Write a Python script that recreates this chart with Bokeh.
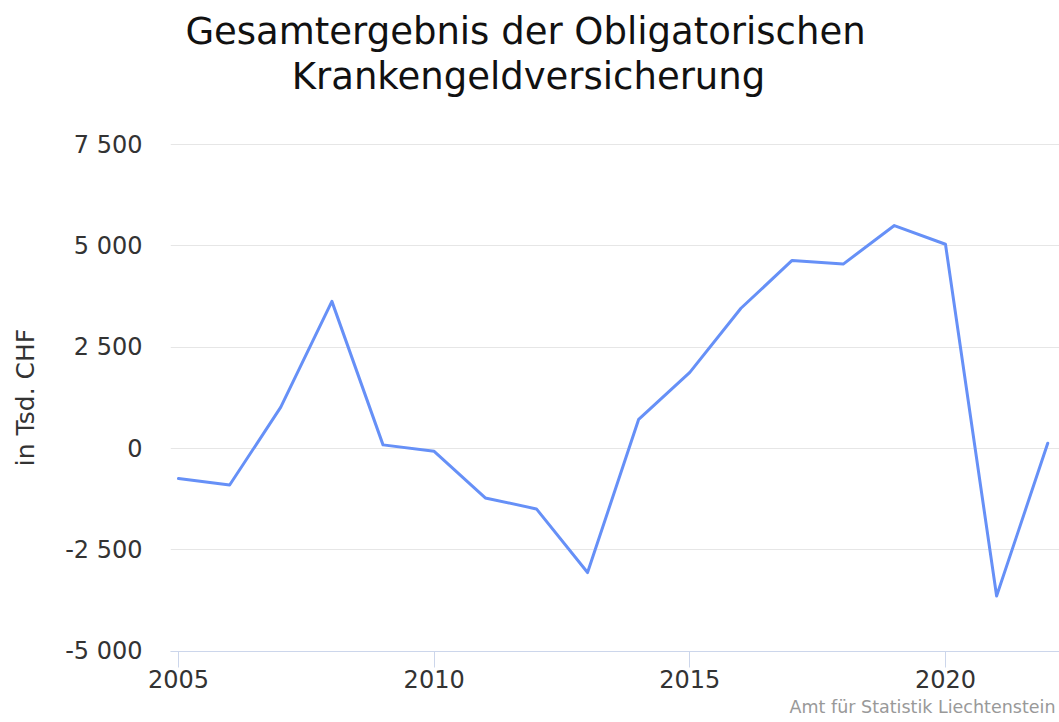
from bokeh.plotting import figure
from bokeh.layouts import column
from bokeh.models import FixedTicker, Range1d, Title, Label
from bokeh.embed import file_html
from bokeh.resources import INLINE

# ---- data ----
years = [2005, 2006, 2007, 2008, 2009, 2010, 2011, 2012, 2013,
         2014, 2015, 2016, 2017, 2018, 2019, 2020, 2021, 2022]
result = [-740, -900, 1020, 3630, 90, -70, -1220, -1490, -3060,
          720, 1880, 3460, 4640, 4550, 5500, 5040, -3640, 130]

y_ticks = [-5000, -2500, 0, 2500, 5000, 7500]
y_tick_labels = ["-5 000", "-2 500", "0", "2 500", "5 000", "7 500"]
x_ticks = [2005, 2010, 2015, 2020]
x_tick_labels = ["2005", "2010", "2015", "2020"]

title_lines = ["Gesamtergebnis der Obligatorischen", "Krankengeldversicherung"]
y_title = "in Tsd. CHF"
credit = "Amt für Statistik Liechtenstein"

# ---- layout ----
W, H = 1059, 722
TH = 123                    # height of the title strip
FL, FT, FB = 170, 143, 651  # frame left / top / bottom (page pixels)
FONT = "DejaVu Sans"

# title strip (its frame is aligned with the chart frame by the column layout)
tf = figure(width=W, height=TH, x_range=Range1d(0, 1), y_range=Range1d(0, 1),
            x_axis_type=None, y_axis_type=None,
            output_backend="svg", toolbar_location=None,
            min_border_left=0, min_border_right=0, min_border_top=0, min_border_bottom=0)
tf.outline_line_color = None
tf.xgrid.visible = False
tf.ygrid.visible = False
tf.background_fill_color = "white"
tf.border_fill_color = "white"

def add_title_line(text, sx, sy):
    tf.add_layout(Label(x=sx - FL, y=TH - sy, x_units="screen", y_units="screen",
                        text=text, text_font=FONT, text_font_size="37px",
                        text_color="#111111", text_align="center",
                        text_baseline="alphabetic"))

add_title_line(title_lines[0], 525, 31)
add_title_line(title_lines[1], 528, 76)

# main chart
p = figure(width=W, height=H - TH,
           x_range=Range1d(2004.8435, 2022.23),
           y_range=Range1d(-5007.4, 7524.7),
           output_backend="svg", toolbar_location=None,
           min_border_left=FL, min_border_right=0,
           min_border_top=FT - TH, min_border_bottom=H - FB)
p.outline_line_color = None
p.background_fill_color = "white"
p.border_fill_color = "white"

p.line(years, result, line_color="#6690f7", line_width=3,
       line_join="round", line_cap="round")

# y axis
p.yaxis.ticker = FixedTicker(ticks=y_ticks)
p.yaxis.major_label_overrides = dict(zip(y_ticks, y_tick_labels))
p.yaxis.axis_line_color = None
p.yaxis.major_tick_line_color = None
p.yaxis.minor_tick_line_color = None
p.yaxis.major_tick_out = 0
p.yaxis.major_tick_in = 0
p.yaxis.major_label_standoff = 28
p.yaxis.major_label_text_font = FONT
p.yaxis.major_label_text_font_size = "24px"
p.yaxis.major_label_text_color = "#333333"
p.yaxis.axis_label = y_title
p.yaxis.axis_label_standoff = 22
p.yaxis.axis_label_text_font = FONT
p.yaxis.axis_label_text_font_size = "25px"
p.yaxis.axis_label_text_font_style = "normal"
p.yaxis.axis_label_text_color = "#333333"

# x axis
p.xaxis.ticker = FixedTicker(ticks=x_ticks)
p.xaxis.major_label_overrides = dict(zip(x_ticks, x_tick_labels))
p.xaxis.axis_line_color = "#ccd6eb"
p.xaxis.axis_line_width = 1
p.xaxis.major_tick_line_color = "#ccd6eb"
p.xaxis.major_tick_out = 16
p.xaxis.major_tick_in = 0
p.xaxis.minor_tick_line_color = None
p.xaxis.major_label_standoff = 2
p.xaxis.major_label_text_font = FONT
p.xaxis.major_label_text_font_size = "24px"
p.xaxis.major_label_text_color = "#333333"

p.xgrid.grid_line_color = None
p.ygrid.ticker = FixedTicker(ticks=y_ticks)
p.ygrid.grid_line_color = "#e6e6e6"
p.ygrid.grid_line_width = 1

# credit
cr = Title(text=credit, align="right", offset=4, text_font=FONT,
           text_font_size="17.5px", text_font_style="normal", text_color="#999999",
           standoff=8, vertical_align="bottom")
p.add_layout(cr, "below")

layout = column(tf, p, spacing=0)
open("out.html", "w").write(file_html(layout, INLINE))
